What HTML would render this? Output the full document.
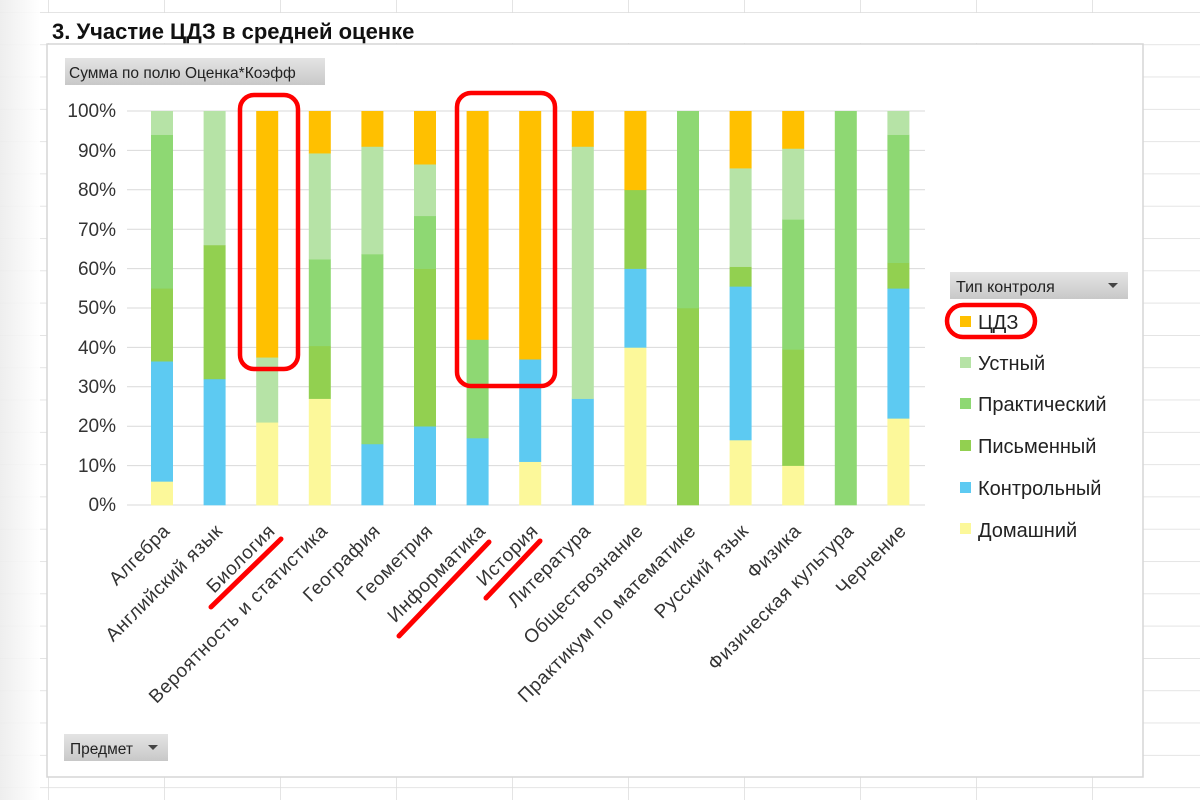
<!DOCTYPE html>
<html><head><meta charset="utf-8"><style>
body{margin:0;width:1200px;height:800px;overflow:hidden;background:#fff;font-family:"Liberation Sans",sans-serif}
</style></head><body>
<svg width="1200" height="800" xmlns="http://www.w3.org/2000/svg" font-family="'Liberation Sans', sans-serif">
<defs>
<linearGradient id="sh" x1="0" x2="1"><stop offset="0" stop-color="#ececec"/><stop offset="1" stop-color="#fff"/></linearGradient>
<linearGradient id="btn" x1="0" y1="0" x2="0" y2="1"><stop offset="0" stop-color="#e4e4e4"/><stop offset="1" stop-color="#c8c8c8"/></linearGradient>
<pattern id="grid" width="116" height="32.3" patternUnits="userSpaceOnUse" x="48" y="12">
<path d="M0 0H116M0 0V32.3" stroke="#dcdcdc" stroke-width="1.5" fill="none"/></pattern>
</defs>
<rect width="1200" height="800" fill="url(#grid)"/>
<rect x="0" y="0" width="40" height="800" fill="url(#sh)" opacity="0.9"/>
<rect x="47" y="13" width="1150" height="30" fill="#fff"/>
<text x="52" y="39" font-size="22" font-weight="bold" fill="#111">3. Участие ЦДЗ в средней оценке</text>
<rect x="47" y="44" width="1096" height="733" fill="#fff" stroke="#d6d6d6" stroke-width="1.5"/>
<rect x="65" y="58" width="260" height="27" fill="url(#btn)"/>
<text x="69" y="78" font-size="15.5" fill="#222">Сумма по полю Оценка*Коэфф</text>
<g stroke="#d9d9d9" stroke-width="1">
<line x1="127" x2="925" y1="111" y2="111"/><line x1="127" x2="925" y1="150.4" y2="150.4"/><line x1="127" x2="925" y1="189.8" y2="189.8"/><line x1="127" x2="925" y1="229.2" y2="229.2"/><line x1="127" x2="925" y1="268.6" y2="268.6"/><line x1="127" x2="925" y1="308" y2="308"/><line x1="127" x2="925" y1="347.4" y2="347.4"/><line x1="127" x2="925" y1="386.8" y2="386.8"/><line x1="127" x2="925" y1="426.2" y2="426.2"/><line x1="127" x2="925" y1="465.6" y2="465.6"/><line x1="127" x2="925" y1="505" y2="505"/>
</g>
<g font-size="19" fill="#333" text-anchor="end">
<text x="116" y="117">100%</text><text x="116" y="157">90%</text><text x="116" y="196">80%</text><text x="116" y="236">70%</text><text x="116" y="275">60%</text><text x="116" y="314">50%</text><text x="116" y="354">40%</text><text x="116" y="393">30%</text><text x="116" y="432">20%</text><text x="116" y="472">10%</text><text x="116" y="511">0%</text>
</g>
<g id="bars"></g>
<g font-size="19" letter-spacing="0.6" fill="#333" text-anchor="end" id="labels"></g>
<g fill="none" stroke="#f00" stroke-width="4.5">
<rect x="240" y="95" width="58" height="274" rx="14"/>
<rect x="457" y="93" width="98" height="293" rx="14"/>
<rect x="947" y="305" width="88" height="32" rx="16"/>
</g>
<g stroke="#f00" stroke-width="5" stroke-linecap="round">
<line x1="211" y1="607" x2="281" y2="539"/>
<line x1="399" y1="636" x2="489" y2="542"/>
<line x1="486" y1="598" x2="540" y2="541"/>
</g>
<rect x="950" y="272" width="178" height="27" fill="url(#btn)"/>
<text x="956" y="292" font-size="16" fill="#222">Тип контроля</text>
<path d="M1108 283h10l-5 5z" fill="#444"/>
<g font-size="20" fill="#222">
<rect x="960" y="316" width="11" height="11" fill="#FFC000"/><text x="978" y="329">ЦДЗ</text>
<rect x="960" y="357" width="11" height="11" fill="#B6E3A6"/><text x="978" y="370">Устный</text>
<rect x="960" y="398" width="11" height="11" fill="#8ED873"/><text x="978" y="411">Практический</text>
<rect x="960" y="440" width="11" height="11" fill="#92D050"/><text x="978" y="453">Письменный</text>
<rect x="960" y="482" width="11" height="11" fill="#5DCAF2"/><text x="978" y="495">Контрольный</text>
<rect x="960" y="523" width="11" height="11" fill="#FCF89A"/><text x="978" y="537">Домашний</text>
</g>
<rect x="64" y="734" width="104" height="27" fill="url(#btn)"/>
<text x="70" y="754" font-size="15.5" fill="#222">Предмет</text>
<path d="M148 745h10l-5 5z" fill="#444"/>
<script>
var C=['#FCF89A','#5DCAF2','#92D050','#8ED873','#B6E3A6','#FFC000'];
var D=[
['Алгебра',[6,30.5,18.5,39,6,0]],
['Английский язык',[0,32,34,0,34,0]],
['Биология',[21,0,0,0,16.5,62.5]],
['Вероятность и статистика',[27,0,13.4,22,26.9,10.7]],
['География',[0,15.5,0,48.2,27.3,9]],
['Геометрия',[0,20,40,13.4,13.1,13.5]],
['Информатика',[0,17,0,25,0,58]],
['История',[11,26,0,0,0,63]],
['Литература',[0,27,0,0,64,9]],
['Обществознание',[40,20,20,0,0,20]],
['Практикум по математике',[0,0,50,50,0,0]],
['Русский язык',[16.5,39,5,0,25,14.5]],
['Физика',[10,0,29.5,33,18,9.5]],
['Физическая культура',[0,0,0,100,0,0]],
['Черчение',[22,33,6.5,32.5,6,0]]];
var ns='http://www.w3.org/2000/svg',b=document.getElementById('bars'),l=document.getElementById('labels');
D.forEach(function(d,i){var cx=162+i*52.6,y=505;
d[1].forEach(function(v,j){if(!v)return;var h=v*3.94;var r=document.createElementNS(ns,'rect');
r.setAttribute('x',cx-11);r.setAttribute('y',y-h);r.setAttribute('width',22);r.setAttribute('height',h+0.3);r.setAttribute('fill',C[j]);b.appendChild(r);y-=h;});
var t=document.createElementNS(ns,'text');var tx=cx+9,ty=532;t.setAttribute('x',tx);t.setAttribute('y',ty);
t.setAttribute('transform','rotate(-45 '+tx+' '+ty+')');t.textContent=d[0];l.appendChild(t);});
</script>
</svg>
</body></html>
